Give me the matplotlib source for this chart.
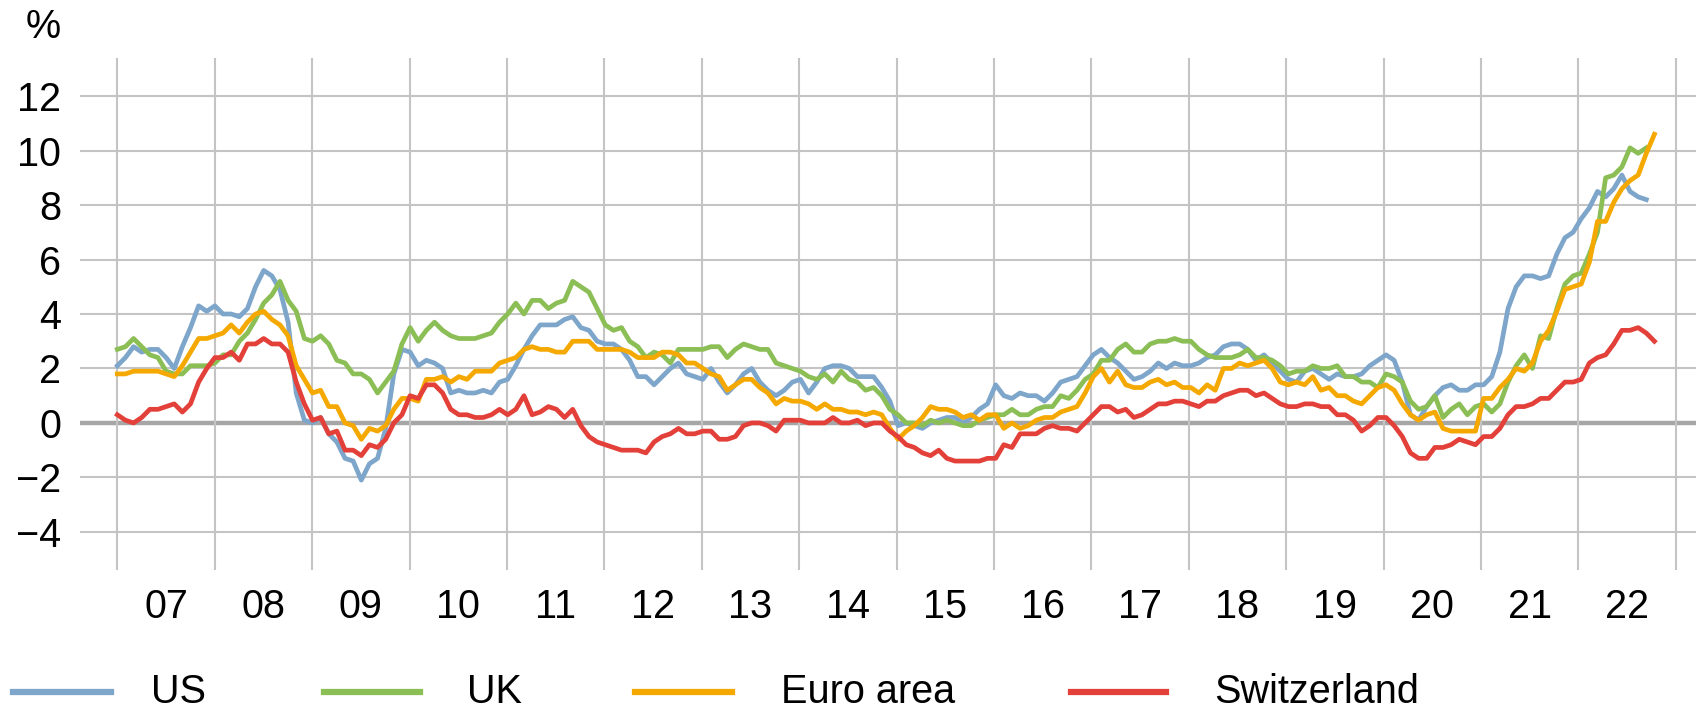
import numpy as np
import matplotlib
matplotlib.use('Agg')
import matplotlib.pyplot as plt
from matplotlib.lines import Line2D

plt.rcParams['font.family'] = ['Liberation Sans', 'DejaVu Sans']

# monthly year-on-year inflation, Jan 2007 onwards (%)
us = [2.1, 2.4, 2.8, 2.6, 2.7, 2.7, 2.4, 2.0, 2.8, 3.5, 4.3, 4.1,
      4.3, 4.0, 4.0, 3.9, 4.2, 5.0, 5.6, 5.4, 4.9, 3.7, 1.1, 0.1,
      0.0, 0.2, -0.4, -0.7, -1.3, -1.4, -2.1, -1.5, -1.3, -0.2, 1.8, 2.7,
      2.6, 2.1, 2.3, 2.2, 2.0, 1.1, 1.2, 1.1, 1.1, 1.2, 1.1, 1.5,
      1.6, 2.1, 2.7, 3.2, 3.6, 3.6, 3.6, 3.8, 3.9, 3.5, 3.4, 3.0,
      2.9, 2.9, 2.7, 2.3, 1.7, 1.7, 1.4, 1.7, 2.0, 2.2, 1.8, 1.7,
      1.6, 2.0, 1.5, 1.1, 1.4, 1.8, 2.0, 1.5, 1.2, 1.0, 1.2, 1.5,
      1.6, 1.1, 1.5, 2.0, 2.1, 2.1, 2.0, 1.7, 1.7, 1.7, 1.3, 0.8,
      -0.1, 0.0, -0.1, -0.2, 0.0, 0.1, 0.2, 0.2, 0.0, 0.2, 0.5, 0.7,
      1.4, 1.0, 0.9, 1.1, 1.0, 1.0, 0.8, 1.1, 1.5, 1.6, 1.7, 2.1,
      2.5, 2.7, 2.4, 2.2, 1.9, 1.6, 1.7, 1.9, 2.2, 2.0, 2.2, 2.1,
      2.1, 2.2, 2.4, 2.5, 2.8, 2.9, 2.9, 2.7, 2.3, 2.5, 2.2, 1.9,
      1.6, 1.5, 1.9, 2.0, 1.8, 1.6, 1.8, 1.7, 1.7, 1.8, 2.1, 2.3,
      2.5, 2.3, 1.5, 0.3, 0.1, 0.6, 1.0, 1.3, 1.4, 1.2, 1.2, 1.4,
      1.4, 1.7, 2.6, 4.2, 5.0, 5.4, 5.4, 5.3, 5.4, 6.2, 6.8, 7.0,
      7.5, 7.9, 8.5, 8.3, 8.6, 9.1, 8.5, 8.3, 8.2]

uk = [2.7, 2.8, 3.1, 2.8, 2.5, 2.4, 1.9, 1.8, 1.8, 2.1, 2.1, 2.1,
      2.2, 2.5, 2.5, 3.0, 3.3, 3.8, 4.4, 4.7, 5.2, 4.5, 4.1, 3.1,
      3.0, 3.2, 2.9, 2.3, 2.2, 1.8, 1.8, 1.6, 1.1, 1.5, 1.9, 2.9,
      3.5, 3.0, 3.4, 3.7, 3.4, 3.2, 3.1, 3.1, 3.1, 3.2, 3.3, 3.7,
      4.0, 4.4, 4.0, 4.5, 4.5, 4.2, 4.4, 4.5, 5.2, 5.0, 4.8, 4.2,
      3.6, 3.4, 3.5, 3.0, 2.8, 2.4, 2.6, 2.5, 2.2, 2.7, 2.7, 2.7,
      2.7, 2.8, 2.8, 2.4, 2.7, 2.9, 2.8, 2.7, 2.7, 2.2, 2.1, 2.0,
      1.9, 1.7, 1.6, 1.8, 1.5, 1.9, 1.6, 1.5, 1.2, 1.3, 1.0, 0.5,
      0.3, 0.0, 0.0, -0.1, 0.1, 0.0, 0.1, 0.0, -0.1, -0.1, 0.1, 0.2,
      0.3, 0.3, 0.5, 0.3, 0.3, 0.5, 0.6, 0.6, 1.0, 0.9, 1.2, 1.6,
      1.8, 2.3, 2.3, 2.7, 2.9, 2.6, 2.6, 2.9, 3.0, 3.0, 3.1, 3.0,
      3.0, 2.7, 2.5, 2.4, 2.4, 2.4, 2.5, 2.7, 2.4, 2.4, 2.3, 2.1,
      1.8, 1.9, 1.9, 2.1, 2.0, 2.0, 2.1, 1.7, 1.7, 1.5, 1.5, 1.3,
      1.8, 1.7, 1.5, 0.8, 0.5, 0.6, 1.0, 0.2, 0.5, 0.7, 0.3, 0.6,
      0.7, 0.4, 0.7, 1.5, 2.1, 2.5, 2.0, 3.2, 3.1, 4.2, 5.1, 5.4,
      5.5, 6.2, 7.0, 9.0, 9.1, 9.4, 10.1, 9.9, 10.1]

euro = [1.8, 1.8, 1.9, 1.9, 1.9, 1.9, 1.8, 1.7, 2.1, 2.6, 3.1, 3.1,
        3.2, 3.3, 3.6, 3.3, 3.7, 4.0, 4.1, 3.8, 3.6, 3.2, 2.1, 1.6,
        1.1, 1.2, 0.6, 0.6, 0.0, -0.1, -0.6, -0.2, -0.3, -0.1, 0.5, 0.9,
        0.9, 0.8, 1.6, 1.6, 1.7, 1.5, 1.7, 1.6, 1.9, 1.9, 1.9, 2.2,
        2.3, 2.4, 2.7, 2.8, 2.7, 2.7, 2.6, 2.6, 3.0, 3.0, 3.0, 2.7,
        2.7, 2.7, 2.7, 2.6, 2.4, 2.4, 2.4, 2.6, 2.6, 2.5, 2.2, 2.2,
        2.0, 1.8, 1.7, 1.2, 1.4, 1.6, 1.6, 1.3, 1.1, 0.7, 0.9, 0.8,
        0.8, 0.7, 0.5, 0.7, 0.5, 0.5, 0.4, 0.4, 0.3, 0.4, 0.3, -0.2,
        -0.6, -0.3, -0.1, 0.2, 0.6, 0.5, 0.5, 0.4, 0.2, 0.3, 0.1, 0.3,
        0.3, -0.2, 0.0, -0.2, -0.1, 0.1, 0.2, 0.2, 0.4, 0.5, 0.6, 1.1,
        1.7, 2.0, 1.5, 1.9, 1.4, 1.3, 1.3, 1.5, 1.6, 1.4, 1.5, 1.3,
        1.3, 1.1, 1.4, 1.2, 2.0, 2.0, 2.2, 2.1, 2.2, 2.3, 2.0, 1.5,
        1.4, 1.5, 1.4, 1.7, 1.2, 1.3, 1.0, 1.0, 0.8, 0.7, 1.0, 1.3,
        1.4, 1.2, 0.7, 0.3, 0.1, 0.3, 0.4, -0.2, -0.3, -0.3, -0.3, -0.3,
        0.9, 0.9, 1.3, 1.6, 2.0, 1.9, 2.2, 3.0, 3.4, 4.1, 4.9, 5.0,
        5.1, 5.9, 7.4, 7.4, 8.1, 8.6, 8.9, 9.1, 9.9, 10.6]

swiss = [0.3, 0.1, 0.0, 0.2, 0.5, 0.5, 0.6, 0.7, 0.4, 0.7, 1.5, 2.0,
         2.4, 2.4, 2.6, 2.3, 2.9, 2.9, 3.1, 2.9, 2.9, 2.6, 1.5, 0.7,
         0.1, 0.2, -0.4, -0.3, -1.0, -1.0, -1.2, -0.8, -0.9, -0.6, 0.0, 0.3,
         1.0, 0.9, 1.4, 1.4, 1.1, 0.5, 0.3, 0.3, 0.2, 0.2, 0.3, 0.5,
         0.3, 0.5, 1.0, 0.3, 0.4, 0.6, 0.5, 0.2, 0.5, -0.1, -0.5, -0.7,
         -0.8, -0.9, -1.0, -1.0, -1.0, -1.1, -0.7, -0.5, -0.4, -0.2, -0.4, -0.4,
         -0.3, -0.3, -0.6, -0.6, -0.5, -0.1, 0.0, 0.0, -0.1, -0.3, 0.1, 0.1,
         0.1, 0.0, 0.0, 0.0, 0.2, 0.0, 0.0, 0.1, -0.1, 0.0, 0.0, -0.3,
         -0.5, -0.8, -0.9, -1.1, -1.2, -1.0, -1.3, -1.4, -1.4, -1.4, -1.4, -1.3,
         -1.3, -0.8, -0.9, -0.4, -0.4, -0.4, -0.2, -0.1, -0.2, -0.2, -0.3, 0.0,
         0.3, 0.6, 0.6, 0.4, 0.5, 0.2, 0.3, 0.5, 0.7, 0.7, 0.8, 0.8,
         0.7, 0.6, 0.8, 0.8, 1.0, 1.1, 1.2, 1.2, 1.0, 1.1, 0.9, 0.7,
         0.6, 0.6, 0.7, 0.7, 0.6, 0.6, 0.3, 0.3, 0.1, -0.3, -0.1, 0.2,
         0.2, -0.1, -0.5, -1.1, -1.3, -1.3, -0.9, -0.9, -0.8, -0.6, -0.7, -0.8,
         -0.5, -0.5, -0.2, 0.3, 0.6, 0.6, 0.7, 0.9, 0.9, 1.2, 1.5, 1.5,
         1.6, 2.2, 2.4, 2.5, 2.9, 3.4, 3.4, 3.5, 3.3, 3.0]

series_names = ['US', 'UK', 'Euro area', 'Switzerland']
series_colors = ['#7EA6CB', '#8CBE56', '#F5A900', '#E4403A']
series_data = [us, uk, euro, swiss]

years = np.arange(2007, 2023)
y_ticks = [-4, -2, 0, 2, 4, 6, 8, 10, 12]

W, H = 1696, 715
fig = plt.figure(figsize=(W / 100, H / 100), dpi=100)
ax = fig.add_axes([80 / W, (H - 570) / H, (W - 80) / W, (570 - 58) / H])

x_left = 2007 - (117.3 - 80) / 97.4
x_right = 2007 + (W - 117.3) / 97.4
ax.set_xlim(x_left, x_right)
ax.set_ylim(-5.4, 13.4)

# grid: horizontal every 2, vertical at year boundaries
for v in y_ticks:
    if v == 0:
        ax.axhline(v, color='#A6A6A6', lw=3.2, zorder=1)
    else:
        ax.axhline(v, color='#C4C4C4', lw=1.5, zorder=1)
for yr in range(2007, 2024):
    ax.axvline(yr, color='#C4C4C4', lw=1.5, zorder=1)

for vals, col in zip(series_data, series_colors):
    t = 2007 + np.arange(len(vals)) / 12 * 1.002
    ax.plot(t, vals, color=col, lw=3.4, solid_joinstyle='round', zorder=3)

for s in ax.spines.values():
    s.set_visible(False)

ax.set_yticks(y_ticks)
ax.set_yticklabels([str(v).replace('-', '\u2212') for v in y_ticks])
ax.set_xticks(years + 0.5)
ax.set_xticklabels([f'{y % 100:02d}' for y in years])
ax.tick_params(axis='both', length=0, labelsize=28.5, colors='black')
ax.tick_params(axis='y', pad=13.5)
ax.tick_params(axis='x', pad=13)

fig.text(43 / W, 1 - 27 / H, '%', fontsize=28.5, ha='center', va='center')

# legend drawn along the bottom
leg_y = 1 - 692 / H
leg_items = [(13, 111, 151), (324, 420, 467), (635, 732, 781), (1071, 1166, 1214)]
for (x0, x1, xt), name, col in zip(leg_items, series_names, series_colors):
    fig.add_artist(Line2D([x0 / W, x1 / W], [leg_y, leg_y], color=col, lw=4.5,
                          transform=fig.transFigure))
    fig.text(xt / W, leg_y, name, fontsize=28.5, ha='left', va='center')

fig.savefig('out.png', dpi=100)
